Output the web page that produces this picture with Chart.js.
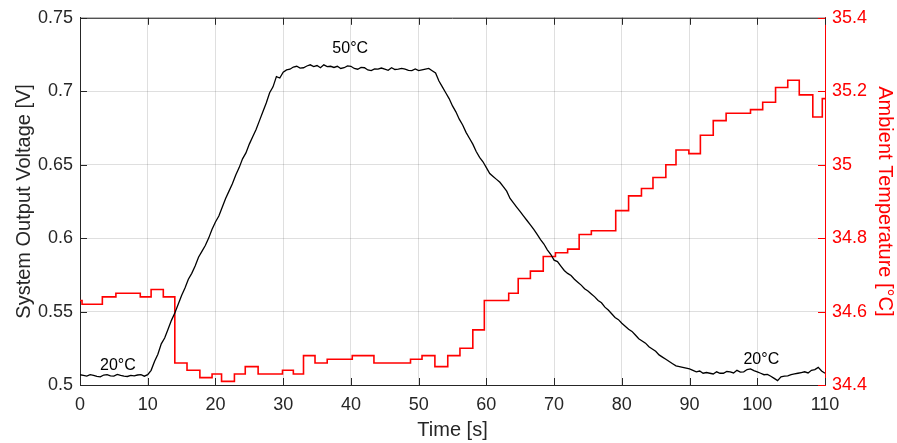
<!DOCTYPE html>
<html>
<head>
<meta charset="utf-8">
<script src="https://cdn.jsdelivr.net/npm/chart.js@4.4.1/dist/chart.umd.min.js"></script>
<style>
  html, body { margin: 0; padding: 0; background: #fff; }
  #wrap { width: 897px; height: 443px; }
</style>
</head>
<body>
<div id="wrap"><canvas id="c" width="897" height="443"></canvas></div>
<script>
// ---- Data ----
// Time axis for the voltage trace (s)
const voltTimes = [
  0,0.5,1,1.5,2,2.5,3,3.5,4,4.5,5,5.5,6,6.5,7,7.5,8,8.5,9,9.5,
  10,10.5,11,11.5,12,12.5,13,13.5,14,14.5,15,15.5,16,16.5,17,17.5,18,18.5,19,19.5,
  20,20.5,21,21.5,22,22.5,23,23.5,24,24.5,25,25.5,26,26.5,27,27.5,28,28.5,29,29.5,
  30,30.5,31,31.5,32,32.5,33,33.5,34,34.5,35,35.5,36,36.5,37,37.5,38,38.5,39,39.5,
  40,40.5,41,41.5,42,42.5,43,43.5,44,44.5,45,45.5,46,46.5,47,47.5,48,48.5,49,49.5,
  50,50.5,51,51.5,52,52.5,53,53.5,54,54.5,55,55.5,56,56.5,57,57.5,58,58.5,59,59.5,
  60,60.5,61,61.5,62,62.5,63,63.5,64,64.5,65,65.5,66,66.5,67,67.5,68,68.5,69,69.5,
  70,70.5,71,71.5,72,72.5,73,73.5,74,74.5,75,75.5,76,76.5,77,77.5,78,78.5,79,79.5,
  80,80.5,81,81.5,82,82.5,83,83.5,84,84.5,85,85.5,86,86.5,87,87.5,88,88.5,89,89.5,
  90,90.5,91,91.5,92,92.5,93,93.5,94,94.5,95,95.5,96,96.5,97,97.5,98,98.5,99,99.5,
  100,100.5,101,101.5,102,102.5,103,103.5,104,104.5,105,105.5,106,106.5,107,107.5,108,108.5,109,109.5,
  110
];
// System output voltage (V)
const voltValues = [
  0.507,0.5065,0.506,0.507,0.5065,0.5058,0.5055,0.5068,0.507,0.5062,0.506,0.5072,0.5065,0.506,0.5058,0.5066,0.5062,0.5068,0.507,0.506,
  0.507,0.510,0.516,0.521,0.528,0.532,0.538,0.544,0.549,0.555,0.561,0.566,0.572,0.576,0.581,0.587,0.591,0.595,0.600,0.606,
  0.611,0.615,0.621,0.627,0.632,0.637,0.643,0.648,0.654,0.658,0.664,0.669,0.674,0.680,0.686,0.692,0.699,0.703,0.710,0.709,
  0.713,0.7145,0.715,0.7165,0.717,0.7158,0.716,0.7172,0.718,0.7168,0.7175,0.716,0.718,0.7168,0.717,0.7162,0.717,0.7155,0.716,0.7172,
  0.717,0.7155,0.715,0.7162,0.716,0.7145,0.714,0.7152,0.715,0.7158,0.715,0.7142,0.716,0.7148,0.715,0.7155,0.715,0.7142,0.714,0.7152,
  0.714,0.7145,0.715,0.7155,0.714,0.7125,0.707,0.703,0.699,0.695,0.690,0.686,0.681,0.677,0.672,0.668,0.664,0.659,0.655,0.652,
  0.648,0.644,0.642,0.640,0.638,0.635,0.632,0.627,0.624,0.621,0.618,0.615,0.612,0.609,0.606,0.6025,0.599,0.596,0.592,0.589,
  0.585,0.584,0.581,0.578,0.576,0.5745,0.572,0.570,0.568,0.5655,0.564,0.562,0.560,0.5575,0.556,0.553,0.551,0.5485,0.546,0.5445,
  0.542,0.540,0.538,0.5365,0.534,0.5315,0.530,0.5285,0.526,0.5245,0.523,0.5205,0.519,0.5175,0.516,0.5145,0.513,0.5125,0.512,0.5115,
  0.511,0.510,0.509,0.5095,0.508,0.5085,0.508,0.5075,0.509,0.508,0.508,0.5092,0.509,0.5082,0.510,0.5088,0.509,0.5105,0.511,0.5098,
  0.509,0.508,0.507,0.5072,0.506,0.5045,0.503,0.5055,0.506,0.5062,0.507,0.5075,0.508,0.5085,0.509,0.5082,0.510,0.5105,0.512,0.5095,
  0.508
];
// Ambient temperature: times at which each level starts (s) and the level (°C)
const tempTimes = [
  0,0.3,3.3,5.3,8.9,10.5,12.3,14.0,15.8,17.7,19.5,20.9,22.8,24.4,26.3,29.9,31.5,
  33.0,34.7,36.5,40.2,43.4,48.8,50.5,52.4,54.3,56.1,58.0,59.7,63.3,64.7,66.5,
  68.4,70.2,72.0,73.7,75.5,79.1,81.0,82.9,84.6,86.5,88.0,89.9,91.6,93.5,95.4,
  99.0,100.8,102.7,104.5,106.2,108.2,109.6,110
];
const tempValues = [
  34.63,34.62,34.64,34.65,34.64,34.66,34.64,34.46,34.44,34.42,34.43,34.41,34.43,34.45,34.43,34.44,34.43,
  34.48,34.46,34.47,34.48,34.46,34.47,34.48,34.45,34.48,34.50,34.55,34.63,34.65,34.69,34.71,
  34.75,34.76,34.77,34.81,34.82,34.875,34.915,34.935,34.965,35.0,35.04,35.03,35.08,35.12,35.14,
  35.15,35.17,35.21,35.23,35.19,35.13,35.18,35.18
];
// Axis ticks
const xTicks = [0,10,20,30,40,50,60,70,80,90,100,110];
const voltTicks = [0.5,0.55,0.6,0.65,0.7,0.75];
const tempTicks = [34.4,34.6,34.8,35,35.2,35.4];
// Text labels on the plot (time, voltage, text)
const noteTimes = [5.6, 39.9, 100.6];
const noteVolts = [0.5132, 0.7293, 0.5173];
const noteTexts = ['20°C', '50°C', '20°C'];

// ---- Chart ----
const FONT = '"Liberation Sans", Arial, Helvetica, sans-serif';
const AX = '#262626';
const RED = '#ff0000';
const TICK_LEN = 7;

const boxPlugin = {
  id: 'boxPlugin',
  afterDatasetsDraw(chart) {
    const {ctx, chartArea: a, scales} = chart;
    ctx.save();
    ctx.lineWidth = 1;
    ctx.strokeStyle = AX;
    ctx.beginPath();
    ctx.moveTo(a.left, a.top + 0.5);
    ctx.lineTo(a.right, a.top + 0.5);
    ctx.stroke();
    ctx.beginPath();
    xTicks.forEach(t => {
      const px = Math.round(scales.x.getPixelForValue(t)) + 0.5;
      ctx.moveTo(px, a.bottom); ctx.lineTo(px, a.bottom - TICK_LEN);
      ctx.moveTo(px, a.top); ctx.lineTo(px, a.top + TICK_LEN);
    });
    voltTicks.forEach(v => {
      const py = Math.round(scales.y.getPixelForValue(v)) + 0.5;
      ctx.moveTo(a.left, py); ctx.lineTo(a.left + TICK_LEN, py);
    });
    ctx.stroke();
    ctx.strokeStyle = RED;
    ctx.beginPath();
    tempTicks.forEach(v => {
      const py = Math.round(scales.y1.getPixelForValue(v)) + 0.5;
      ctx.moveTo(a.right, py); ctx.lineTo(a.right - TICK_LEN, py);
    });
    ctx.stroke();
    ctx.fillStyle = '#000';
    ctx.font = '16px ' + FONT;
    ctx.textAlign = 'center';
    ctx.textBaseline = 'middle';
    noteTexts.forEach((txt, i) => {
      ctx.fillText(txt, scales.x.getPixelForValue(noteTimes[i]), scales.y.getPixelForValue(noteVolts[i]));
    });
    ctx.restore();
  }
};

const fmt2 = v => String(+Number(v).toFixed(2));
const fmt1 = v => String(+Number(v).toFixed(1));

new Chart(document.getElementById('c'), {
  type: 'line',
  data: {
    datasets: [
      {
        label: 'Voltage',
        data: voltTimes.map((t, i) => ({x: t, y: voltValues[i]})),
        borderColor: '#000',
        borderWidth: 1.3,
        pointRadius: 0,
        tension: 0,
        yAxisID: 'y'
      },
      {
        label: 'Temperature',
        data: tempTimes.map((t, i) => ({x: t, y: tempValues[i]})),
        borderColor: RED,
        borderWidth: 1.6,
        pointRadius: 0,
        stepped: 'before',
        yAxisID: 'y1'
      }
    ]
  },
  options: {
    responsive: false,
    animation: false,
    layout: { padding: { top: 17, left: 0, right: 0, bottom: 0 } },
    plugins: { legend: { display: false }, tooltip: { enabled: false } },
    scales: {
      x: {
        type: 'linear', min: 0, max: 110,
        afterBuildTicks: s => { s.ticks = xTicks.map(v => ({value: v})); },
        ticks: { color: AX, font: { family: FONT, size: 18 }, padding: 9, maxRotation: 0 },
        grid: { color: 'rgba(38,38,38,0.15)', drawTicks: false },
        border: { color: AX, width: 1 },
        title: { display: true, text: 'Time [s]', color: AX, font: { family: FONT, size: 20 }, padding: { top: 0, bottom: 1 } },
        afterFit: s => { s.height = 58; }
      },
      y: {
        position: 'left', min: 0.5, max: 0.75,
        afterBuildTicks: s => { s.ticks = voltTicks.map(v => ({value: v})); },
        ticks: { color: AX, font: { family: FONT, size: 18 }, padding: 7, callback: fmt2 },
        grid: { color: 'rgba(38,38,38,0.15)', drawTicks: false },
        border: { color: AX, width: 1 },
        title: { display: true, text: 'System Output Voltage [V]', color: AX, font: { family: FONT, size: 20 }, padding: { top: 12, bottom: 0 } },
        afterFit: s => { s.width = 80; }
      },
      y1: {
        position: 'right', min: 34.4, max: 35.4,
        afterBuildTicks: s => { s.ticks = tempTicks.map(v => ({value: v})); },
        ticks: { color: RED, font: { family: FONT, size: 18 }, padding: 7, callback: fmt1 },
        grid: { drawOnChartArea: false, drawTicks: false },
        border: { color: RED, width: 1 },
        title: { display: true, text: 'Ambient Temperature [°C]', color: RED, font: { family: FONT, size: 20 }, padding: { top: 0, bottom: 0 } },
        afterFit: s => { s.width = 72; }
      }
    }
  },
  plugins: [boxPlugin]
});
</script>
</body>
</html>
